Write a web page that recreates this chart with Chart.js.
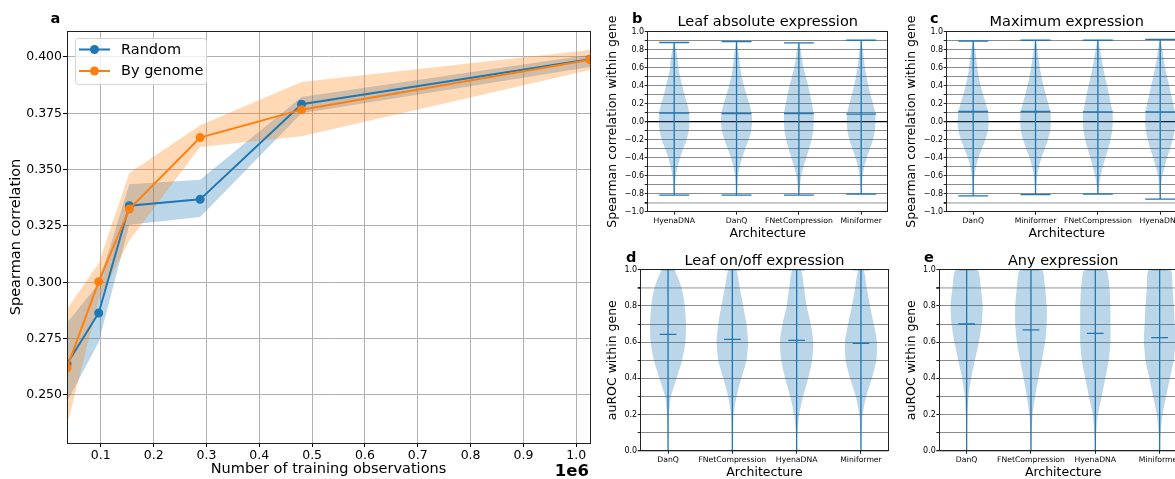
<!DOCTYPE html>
<html>
<head>
<meta charset="utf-8">
<script src="https://cdn.jsdelivr.net/npm/chart.js@4.4.1/dist/chart.umd.min.js"></script>
<style>
  html, body { margin: 0; padding: 0; background: #fff; }
  body { width: 1175px; height: 479px; overflow: hidden; position: relative; }
  canvas { position: absolute; }
</style>
</head>
<body>
<canvas id="panelA" width="600" height="479" style="left:0;top:0"></canvas>
<canvas id="panelB" width="295" height="245" style="left:600px;top:0"></canvas>
<canvas id="panelC" width="300" height="245" style="left:890px;top:0"></canvas>
<canvas id="panelD" width="295" height="234" style="left:600px;top:245px"></canvas>
<canvas id="panelE" width="300" height="234" style="left:890px;top:245px"></canvas>
<script>
// ---- panel a: learning curve ----
const trainSizes = [36000, 96000, 154000, 288000, 480000, 1026000];
const obsTicks = [100000, 200000, 300000, 400000, 500000, 600000, 700000, 800000, 900000, 1000000];
const randomMean = [0.2638, 0.2864, 0.3340, 0.3368, 0.3790, 0.3990];
const randomLow  = [0.2470, 0.2735, 0.3255, 0.3290, 0.3750, 0.3955];
const randomHigh = [0.2820, 0.2995, 0.3435, 0.3455, 0.3822, 0.4010];
const genomeMean = [0.2621, 0.3003, 0.3325, 0.3642, 0.3766, 0.3988];
const genomeLow  = [0.2365, 0.2920, 0.3185, 0.3600, 0.3648, 0.3942];
const genomeHigh = [0.2880, 0.3085, 0.3485, 0.3697, 0.3889, 0.4031];

// ---- violin panels: half widths (category units) at each level ----
const spearLevels = [-0.7, -0.6, -0.5, -0.4, -0.3, -0.2, -0.1, 0.0, 0.1, 0.2, 0.3, 0.4, 0.5, 0.6, 0.7, 0.8];
const aurocLevels = [0.1, 0.2, 0.3, 0.4, 0.5, 0.6, 0.7, 0.8, 0.9, 1.0];

// b: Leaf absolute expression
const leafAbsArch = ['HyenaDNA', 'DanQ', 'FNetCompression', 'Miniformer'];
const leafAbsMin = [-0.815, -0.815, -0.815, -0.805];
const leafAbsMax = [0.88, 0.89, 0.875, 0.905];
const leafAbsMid = [0.095, 0.09, 0.09, 0.085];
const leafAbsWidth = [
  [0.013, 0.027, 0.055, 0.095, 0.145, 0.20, 0.235, 0.245, 0.24, 0.21, 0.165, 0.13, 0.095, 0.065, 0.055, 0.03],
  [0.012, 0.025, 0.05, 0.09, 0.14, 0.195, 0.235, 0.25, 0.24, 0.205, 0.16, 0.12, 0.085, 0.06, 0.045, 0.025],
  [0.018, 0.04, 0.075, 0.12, 0.165, 0.205, 0.23, 0.24, 0.235, 0.21, 0.18, 0.15, 0.11, 0.075, 0.05, 0.03],
  [0.012, 0.025, 0.05, 0.09, 0.14, 0.19, 0.22, 0.23, 0.225, 0.19, 0.15, 0.115, 0.085, 0.06, 0.045, 0.025]
];

// c: Maximum expression
const maxExpArch = ['DanQ', 'Miniformer', 'FNetCompression', 'HyenaDNA'];
const maxExpMin = [-0.825, -0.81, -0.805, -0.86];
const maxExpMax = [0.895, 0.905, 0.905, 0.915];
const maxExpMid = [0.115, 0.115, 0.11, 0.11];
const maxExpWidth = [
  [0.01, 0.022, 0.045, 0.085, 0.14, 0.195, 0.235, 0.25, 0.24, 0.205, 0.16, 0.12, 0.09, 0.065, 0.05, 0.03],
  [0.012, 0.027, 0.055, 0.095, 0.15, 0.20, 0.235, 0.245, 0.24, 0.205, 0.165, 0.13, 0.095, 0.07, 0.05, 0.03],
  [0.02, 0.045, 0.08, 0.12, 0.165, 0.205, 0.23, 0.24, 0.235, 0.21, 0.18, 0.15, 0.115, 0.085, 0.06, 0.035],
  [0.015, 0.035, 0.07, 0.11, 0.16, 0.20, 0.23, 0.24, 0.235, 0.21, 0.175, 0.145, 0.11, 0.08, 0.055, 0.035]
];

// d: Leaf on/off expression
const onOffArch = ['DanQ', 'FNetCompression', 'HyenaDNA', 'Miniformer'];
const onOffMid = [0.643, 0.615, 0.61, 0.593];
const onOffWidth = [
  [0.005, 0.015, 0.045, 0.135, 0.22, 0.27, 0.28, 0.26, 0.21, 0.09],
  [0.008, 0.02, 0.065, 0.14, 0.22, 0.245, 0.22, 0.17, 0.115, 0.06],
  [0.012, 0.04, 0.10, 0.18, 0.24, 0.26, 0.22, 0.155, 0.115, 0.065],
  [0.008, 0.025, 0.08, 0.17, 0.24, 0.25, 0.20, 0.14, 0.09, 0.04]
];

// e: Any expression
const anyArch = ['DanQ', 'FNetCompression', 'HyenaDNA', 'Miniformer'];
const anyMid = [0.70, 0.667, 0.648, 0.625];
const anyWidth = [
  [0.005, 0.012, 0.03, 0.07, 0.13, 0.19, 0.235, 0.25, 0.22, 0.17],
  [0.01, 0.025, 0.065, 0.115, 0.17, 0.22, 0.245, 0.245, 0.22, 0.17],
  [0.015, 0.04, 0.10, 0.155, 0.21, 0.235, 0.235, 0.235, 0.22, 0.17],
  [0.015, 0.045, 0.10, 0.16, 0.22, 0.245, 0.235, 0.22, 0.20, 0.17]
];

const BLUE = '#1f77b4';
const ORANGE = '#ff7f0e';
const FONT = "'DejaVu Sans', sans-serif";
Chart.defaults.font.family = FONT;
Chart.defaults.color = '#000';

function alignPx(v) { return Math.round(v - 0.5) + 0.5; }

const framePlugin = {
  id: 'frame',
  afterDatasetsDraw(chart) {
    const {ctx, chartArea: a} = chart;
    ctx.save();
    ctx.strokeStyle = '#222';
    ctx.lineWidth = 1;
    const l = alignPx(a.left), t = alignPx(a.top), r = alignPx(a.right), b = alignPx(a.bottom);
    ctx.strokeRect(l, t, r - l, b - t);
    ctx.restore();
  }
};

function textPlugin(items) {
  return {
    id: 'texts',
    afterDraw(chart) {
      const {ctx, chartArea: a} = chart;
      items.forEach(t => {
        ctx.save();
        ctx.font = t.font;
        ctx.fillStyle = '#000';
        ctx.textAlign = t.align || 'center';
        ctx.textBaseline = 'alphabetic';
        const x = t.x === 'center' ? (a.left + a.right) / 2 : t.x;
        ctx.fillText(t.text, x, t.y);
        ctx.restore();
      });
    }
  };
}

const legendBoxPlugin = {
  id: 'legendBox',
  afterDraw(chart) {
    const ctx = chart.ctx;
    const items = chart.data.datasets.filter(d => d.inLegend);
    ctx.save();
    const x = 75.5, y = 38.5, w = 131, h = 46, r = 3;
    ctx.beginPath();
    ctx.moveTo(x + r, y);
    ctx.arcTo(x + w, y, x + w, y + h, r);
    ctx.arcTo(x + w, y + h, x, y + h, r);
    ctx.arcTo(x, y + h, x, y, r);
    ctx.arcTo(x, y, x + w, y, r);
    ctx.closePath();
    ctx.fillStyle = 'rgba(255,255,255,0.8)';
    ctx.fill();
    ctx.strokeStyle = '#d4d4d4';
    ctx.lineWidth = 1;
    ctx.stroke();
    items.forEach((d, i) => {
      const yy = 49.5 + i * 21.5;
      ctx.strokeStyle = d.borderColor;
      ctx.lineWidth = 2;
      ctx.beginPath();
      ctx.moveTo(79, yy);
      ctx.lineTo(110, yy);
      ctx.stroke();
      ctx.fillStyle = d.borderColor;
      ctx.beginPath();
      ctx.arc(94.5, yy, 4.5, 0, Math.PI * 2);
      ctx.fill();
      ctx.fillStyle = '#000';
      ctx.font = '14.5px ' + FONT;
      ctx.textAlign = 'left';
      ctx.textBaseline = 'middle';
      ctx.fillText(d.label, 121, yy + 0.5);
    });
    ctx.restore();
  }
};

function pts(xs, ys) { return xs.map((x, i) => ({x: x, y: ys[i]})); }

function bandSet(ys, color, fill, order) {
  return {data: pts(trainSizes, ys), showLine: true, borderColor: 'rgba(0,0,0,0)', borderWidth: 0,
          pointRadius: 0, backgroundColor: color, fill: fill, order: order, clip: 0};
}

function lineSet(label, ys, color, order) {
  return {label: label, inLegend: true, data: pts(trainSizes, ys), showLine: true,
          borderColor: color, backgroundColor: color, borderWidth: 2, pointRadius: 4.5,
          pointBorderWidth: 0, order: order, clip: 0};
}

new Chart(document.getElementById('panelA'), {
  type: 'scatter',
  data: {
    datasets: [
      lineSet('Random', randomMean, BLUE, 1),
      lineSet('By genome', genomeMean, ORANGE, 0),
      bandSet(randomHigh, 'rgba(31,119,180,0.3)', '+1', 3),
      bandSet(randomLow, 'rgba(0,0,0,0)', false, 3),
      bandSet(genomeHigh, 'rgba(255,127,14,0.3)', '+1', 2),
      bandSet(genomeLow, 'rgba(0,0,0,0)', false, 2)
    ]
  },
  options: {
    responsive: false,
    animation: false,
    devicePixelRatio: 1,
    events: [],
    layout: {padding: {left: 0, right: 10, top: 31, bottom: 0}},
    plugins: {legend: {display: false}, tooltip: {enabled: false}},
    scales: {
      x: {
        type: 'linear', min: trainSizes[0], max: trainSizes[trainSizes.length - 1],
        afterBuildTicks: s => { s.ticks = obsTicks.map(v => ({value: v})); },
        afterFit: s => { s.height = 36; },
        ticks: {autoSkip: false, maxRotation: 0, padding: 1,
                font: {size: 12.5}, callback: v => (v / 1e6).toFixed(1)},
        grid: {color: '#b0b0b0', lineWidth: 1, tickLength: 4, tickColor: '#000'},
        border: {display: false},
        title: {display: true, text: 'Number of training observations', font: {size: 14.5, lineHeight: 1},
                padding: {top: 0, bottom: 2.5}}
      },
      y: {
        min: 0.2287, max: 0.4115,
        afterFit: s => { s.width = 67; },
        ticks: {stepSize: 0.025, includeBounds: false, autoSkip: false, padding: 1,
                font: {size: 12.5}, callback: v => v.toFixed(3)},
        grid: {color: '#b0b0b0', lineWidth: 1, tickLength: 4, tickColor: '#000'},
        border: {display: false},
        title: {display: true, text: 'Spearman correlation', font: {size: 14.5, lineHeight: 1},
                padding: {top: 8.5, bottom: 0}}
      }
    }
  },
  plugins: [framePlugin, legendBoxPlugin, textPlugin([
    {text: 'a', x: 50.5, y: 22.5, align: 'left', font: 'bold 14.5px ' + FONT},
    {text: '1e6', x: 589, y: 476, align: 'right', font: 'bold 16.5px ' + FONT}
  ])]
});

function fmtTick(v) {
  const k = Math.round(v * 10);
  if (k % 2 !== 0) return '';
  if (k === 0) return '0.0';
  return (k / 10).toFixed(1).replace('-', '\u2212');
}

function violinPanel(id, p) {
  const datasets = [];
  p.arch.forEach((name, i) => {
    const c = i + 1;
    const right = [{x: c, y: p.min[i]}];
    const left = [];
    p.levels.forEach((y, k) => {
      right.push({x: c + p.widths[i][k], y: y});
      left.unshift({x: c - p.widths[i][k], y: y});
    });
    if (p.max[i] > p.levels[p.levels.length - 1]) right.push({x: c, y: p.max[i]});
    left.push({x: c, y: p.min[i]});
    datasets.push({data: right.concat(left), showLine: true, fill: 'shape',
                   backgroundColor: 'rgba(31,119,180,0.3)', borderColor: 'rgba(0,0,0,0)',
                   borderWidth: 0, pointRadius: 0, tension: 0.2, order: 2});
    const gap = {x: c, y: null};
    datasets.push({data: [
        {x: c, y: p.min[i]}, {x: c, y: p.max[i]}, gap,
        {x: c - p.cap, y: p.min[i]}, {x: c + p.cap, y: p.min[i]}, gap,
        {x: c - p.cap, y: p.max[i]}, {x: c + p.cap, y: p.max[i]}, gap,
        {x: c - p.midHalf, y: p.mid[i]}, {x: c + p.midHalf, y: p.mid[i]}
      ], showLine: true, spanGaps: false, fill: false, borderColor: BLUE, borderWidth: 1.3,
      pointRadius: 0, order: 1});
  });

  new Chart(document.getElementById(id), {
    type: 'scatter',
    data: {datasets: datasets},
    options: {
      responsive: false,
      animation: false,
      devicePixelRatio: 1,
      events: [],
      layout: {padding: {left: 0, right: p.padRight, top: p.padTop, bottom: 0}},
      plugins: {legend: {display: false}, tooltip: {enabled: false}},
      scales: {
        x: {
          type: 'linear', min: 0.575, max: 4.425,
          afterBuildTicks: s => { s.ticks = p.arch.map((_, i) => ({value: i + 1})); },
          afterFit: s => { s.height = p.xAxisH; },
          ticks: {autoSkip: false, maxRotation: 0, padding: 2, font: {size: 7.7},
                  callback: v => p.arch[Math.round(v) - 1]},
          grid: {drawOnChartArea: false, tickLength: 3, tickColor: '#222'},
          border: {display: false},
          title: {display: true, text: 'Architecture', font: {size: 12.5, lineHeight: 1},
                  padding: {top: 0, bottom: p.xTitlePad}}
        },
        y: {
          min: p.yMin, max: p.yMax,
          afterFit: s => { s.width = p.yAxisW; },
          ticks: {stepSize: 0.1, autoSkip: false, padding: 0.5, font: {size: 8}, callback: fmtTick},
          grid: {
            color: ctx => {
              const v = ctx.tick ? ctx.tick.value : 0;
              if (Math.abs(v) < 1e-9) return '#000';
              if (Math.abs(v - p.yMin) < 1e-9 || Math.abs(v - p.yMax) < 1e-9) return 'rgba(0,0,0,0)';
              if (p.soft.some(s => Math.abs(s - v) < 1e-9)) return '#c2c2c2';
              return '#8c8c8c';
            },
            lineWidth: ctx => {
              const v = ctx.tick ? ctx.tick.value : 0;
              if (Math.abs(v) < 1e-9) return 1.3;
              if (p.soft.some(s => Math.abs(s - v) < 1e-9)) return 1.8;
              return 1;
            },
            tickLength: 3, tickColor: '#222'
          },
          border: {display: false},
          title: {display: true, text: p.yTitle, font: {size: 12.5, lineHeight: 1},
                  padding: {top: p.yTitlePad, bottom: 0}}
        }
      }
    },
    plugins: [framePlugin, textPlugin([
      {text: p.letter, x: p.letterX, y: p.letterY, align: 'left', font: 'bold 14.5px ' + FONT},
      {text: p.title, x: 'center', y: p.titleY, font: '14.5px ' + FONT}
    ])]
  });
}

violinPanel('panelB', {
  arch: leafAbsArch, levels: spearLevels, widths: leafAbsWidth,
  min: leafAbsMin, max: leafAbsMax, mid: leafAbsMid, cap: 0.24, midHalf: 0.24,
  yMin: -1, yMax: 1, soft: [-0.9], yTitle: 'Spearman correlation within gene',
  padRight: 7.3, padTop: 31.7, xAxisH: 33.3, yAxisW: 47.7, xTitlePad: 4.75, yTitlePad: 6.75,
  letter: 'b', letterX: 32, letterY: 22.7, title: 'Leaf absolute expression', titleY: 26
});

violinPanel('panelC', {
  arch: maxExpArch, levels: spearLevels, widths: maxExpWidth,
  min: maxExpMin, max: maxExpMax, mid: maxExpMid, cap: 0.24, midHalf: 0.24,
  yMin: -1, yMax: 1, soft: [-0.9], yTitle: 'Spearman correlation within gene',
  padRight: 3.3, padTop: 31.7, xAxisH: 33.3, yAxisW: 56.7, xTitlePad: 4.75, yTitlePad: 15.45,
  letter: 'c', letterX: 40, letterY: 22.7, title: 'Maximum expression', titleY: 26.3
});

violinPanel('panelD', {
  arch: onOffArch, levels: aurocLevels, widths: onOffWidth,
  min: [0, 0, 0, 0], max: [1, 1, 1, 1], mid: onOffMid, cap: 0.13, midHalf: 0.13,
  yMin: 0, yMax: 1, soft: [0.9], yTitle: 'auROC within gene',
  padRight: 6.7, padTop: 24.7, xAxisH: 28.3, yAxisW: 40.7, xTitlePad: 0, yTitlePad: 6.75,
  letter: 'd', letterX: 26, letterY: 16.7, title: 'Leaf on/off expression', titleY: 20.3
});

violinPanel('panelE', {
  arch: anyArch, levels: aurocLevels, widths: anyWidth,
  min: [0, 0, 0, 0], max: [1, 1, 1, 1], mid: anyMid, cap: 0.13, midHalf: 0.13,
  yMin: 0, yMax: 1, soft: [0.9], yTitle: 'auROC within gene',
  padRight: 3, padTop: 24.7, xAxisH: 28.3, yAxisW: 49.3, xTitlePad: 0, yTitlePad: 15.45,
  letter: 'e', letterX: 34, letterY: 17.3, title: 'Any expression', titleY: 20
});
</script>
</body>
</html>
